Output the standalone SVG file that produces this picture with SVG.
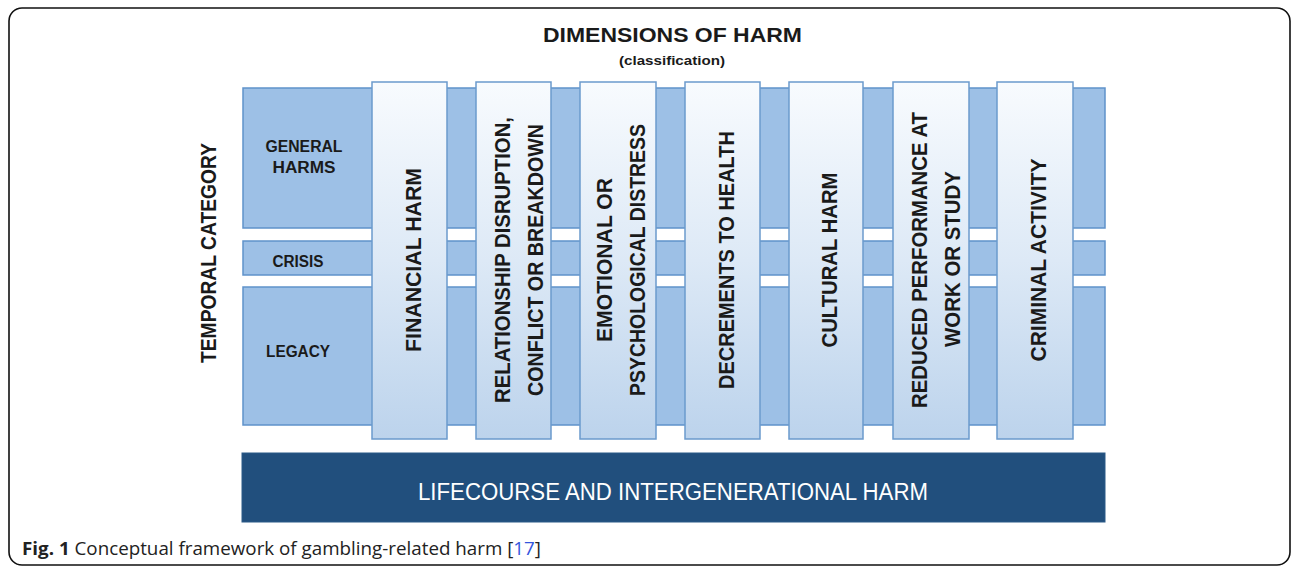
<svg xmlns="http://www.w3.org/2000/svg" width="1292" height="567" viewBox="0 0 1292 567">
<defs>
<linearGradient id="colGrad" x1="0" y1="0" x2="0" y2="1">
<stop offset="0" stop-color="#f8fbfe"/>
<stop offset="0.5" stop-color="#dde9f6"/>
<stop offset="1" stop-color="#bcd3ec"/>
</linearGradient>
<style>
.band{fill:#9dc0e6;stroke:#5f92ca;stroke-width:1.5}
.col{fill:url(#colGrad);stroke:#6b9acd;stroke-width:1.5}
.lbl{font-family:"Liberation Sans",Arial,sans-serif;font-weight:bold;fill:#1a1a1a}
.ct{font-family:"Liberation Sans",Arial,sans-serif;font-weight:bold;fill:#1a1a1a;font-size:22px}
</style>
</defs>
<rect width="1292" height="567" fill="#ffffff"/>
<rect x="9" y="8" width="1281" height="557" rx="13" ry="13" fill="none" stroke="#111" stroke-width="1.6"/>

<g id="title">
<text class="lbl" x="543" y="42" font-size="21" textLength="259" lengthAdjust="spacingAndGlyphs">DIMENSIONS OF HARM</text>
<text class="lbl" x="619" y="65" font-size="12" textLength="106" lengthAdjust="spacingAndGlyphs">(classification)</text>
</g>

<g id="temporal-category">
<text class="lbl" transform="translate(216,253) rotate(-90)" text-anchor="middle" font-size="22" textLength="220" lengthAdjust="spacingAndGlyphs">TEMPORAL CATEGORY</text>
</g>

<g id="band-general">
<rect class="band" x="243" y="88" width="862" height="140"/>
<text class="lbl" x="304" y="152" font-size="16" text-anchor="middle" textLength="77" lengthAdjust="spacingAndGlyphs">GENERAL</text>
<text class="lbl" x="304" y="173" font-size="16" text-anchor="middle" textLength="63" lengthAdjust="spacingAndGlyphs">HARMS</text>
</g>
<g id="band-crisis">
<rect class="band" x="243" y="241" width="862" height="34"/>
<text class="lbl" x="298" y="267" font-size="16" text-anchor="middle" textLength="51" lengthAdjust="spacingAndGlyphs">CRISIS</text>
</g>
<g id="band-legacy">
<rect class="band" x="243" y="287" width="862" height="138"/>
<text class="lbl" x="298" y="357" font-size="16" text-anchor="middle" textLength="64" lengthAdjust="spacingAndGlyphs">LEGACY</text>
</g>

<g id="col-financial">
<rect class="col" x="372" y="82" width="75" height="357"/>
<text class="ct" transform="translate(421,260) rotate(-90)" text-anchor="middle" textLength="184" lengthAdjust="spacingAndGlyphs">FINANCIAL HARM</text>
</g>
<g id="col-relationship">
<rect class="col" x="476" y="82" width="75" height="357"/>
<text class="ct" transform="translate(510,260) rotate(-90)" text-anchor="middle" textLength="286" lengthAdjust="spacingAndGlyphs">RELATIONSHIP DISRUPTION,</text>
<text class="ct" transform="translate(543,260) rotate(-90)" text-anchor="middle" textLength="272" lengthAdjust="spacingAndGlyphs">CONFLICT OR BREAKDOWN</text>
</g>
<g id="col-emotional">
<rect class="col" x="580" y="82" width="76" height="357"/>
<text class="ct" transform="translate(612,260) rotate(-90)" text-anchor="middle" textLength="164" lengthAdjust="spacingAndGlyphs">EMOTIONAL OR</text>
<text class="ct" transform="translate(645,260) rotate(-90)" text-anchor="middle" textLength="272" lengthAdjust="spacingAndGlyphs">PSYCHOLOGICAL DISTRESS</text>
</g>
<g id="col-health">
<rect class="col" x="685" y="82" width="75" height="357"/>
<text class="ct" transform="translate(734,260) rotate(-90)" text-anchor="middle" textLength="258" lengthAdjust="spacingAndGlyphs">DECREMENTS TO HEALTH</text>
</g>
<g id="col-cultural">
<rect class="col" x="789" y="82" width="74" height="357"/>
<text class="ct" transform="translate(837,260) rotate(-90)" text-anchor="middle" textLength="175" lengthAdjust="spacingAndGlyphs">CULTURAL HARM</text>
</g>
<g id="col-performance">
<rect class="col" x="893" y="82" width="76" height="357"/>
<text class="ct" transform="translate(927,260) rotate(-90)" text-anchor="middle" textLength="296" lengthAdjust="spacingAndGlyphs">REDUCED PERFORMANCE AT</text>
<text class="ct" transform="translate(960,259) rotate(-90)" text-anchor="middle" textLength="176" lengthAdjust="spacingAndGlyphs">WORK OR STUDY</text>
</g>
<g id="col-criminal">
<rect class="col" x="997" y="82" width="76" height="357"/>
<text class="ct" transform="translate(1046,260) rotate(-90)" text-anchor="middle" textLength="203" lengthAdjust="spacingAndGlyphs">CRIMINAL ACTIVITY</text>
</g>

<g id="lifecourse">
<rect x="242" y="453" width="863" height="69" fill="#214f7d" stroke="#2b5a88" stroke-width="1"/>
<text x="673" y="500" text-anchor="middle" font-family="'Liberation Sans',Arial,sans-serif" font-size="23" fill="#ffffff" textLength="510" lengthAdjust="spacingAndGlyphs">LIFECOURSE AND INTERGENERATIONAL HARM</text>
</g>

<g id="caption">
<text x="22" y="555" font-family="'Open Sans','Liberation Sans',Arial,sans-serif" font-size="18" fill="#222" textLength="519" lengthAdjust="spacingAndGlyphs"><tspan font-weight="bold">Fig. 1</tspan> Conceptual framework of gambling-related harm [<tspan fill="#3355dd">17</tspan>]</text>
</g>
</svg>
